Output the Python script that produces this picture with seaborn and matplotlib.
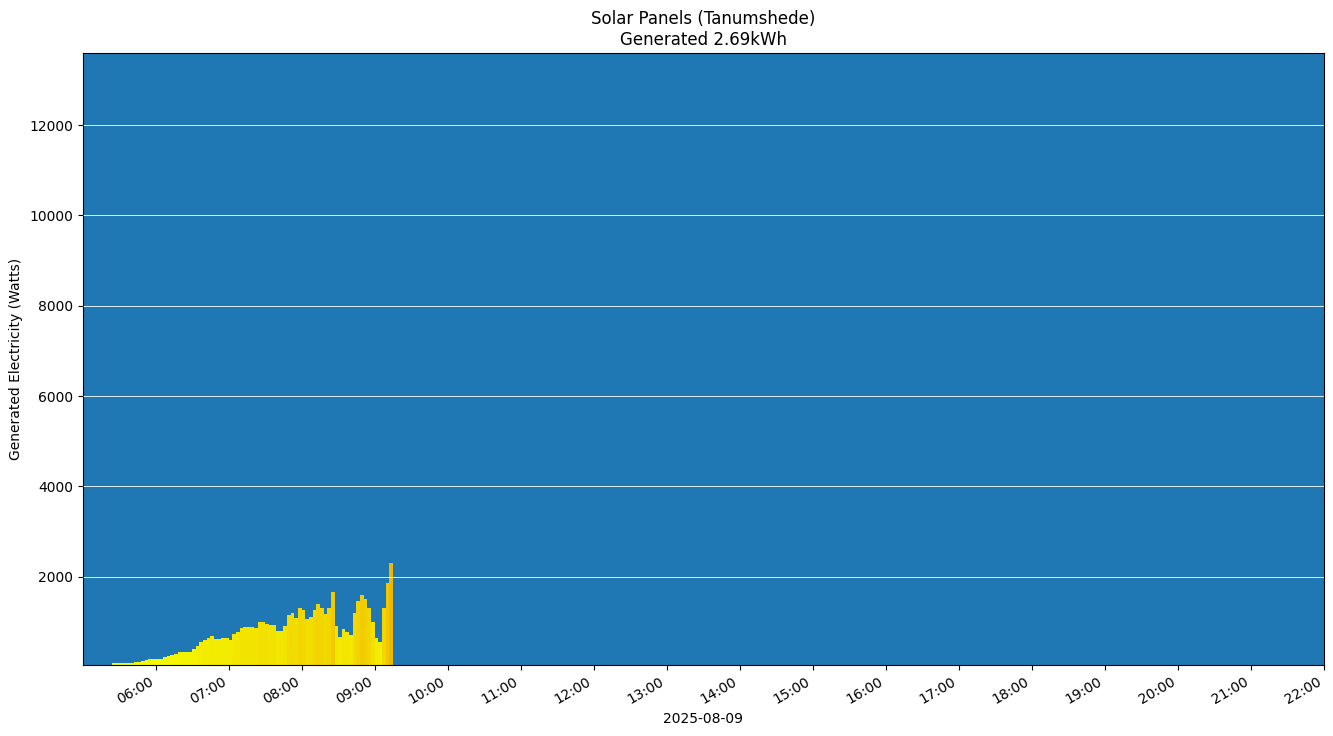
import numpy as np
import pandas as pd
import matplotlib
matplotlib.use("Agg")
import matplotlib.pyplot as plt
import matplotlib.dates as mdates
from matplotlib.colors import LinearSegmentedColormap, Normalize
import seaborn as sns

start_minute = 24  # minutes after 05:00
step_minutes = 3
watts = [85, 85, 85, 85, 85, 90, 110, 115, 130, 150, 180, 180, 170, 175, 210, 240,
         270, 280, 330, 330, 330, 330, 400, 470, 540, 600, 650, 680, 610, 620, 640,
         640, 600, 720, 780, 860, 890, 880, 880, 870, 1000, 990, 950, 930, 920, 800,
         790, 900, 1140, 1200, 1080, 1300, 1250, 1050, 1100, 1250, 1400, 1300, 1180,
         1300, 1650, 900, 660, 830, 780, 700, 1200, 1450, 1600, 1500, 1300, 1000,
         650, 550, 1300, 1850, 2300]
title = "Solar Panels (Tanumshede)\nGenerated 2.69kWh"
ylabel = "Generated Electricity (Watts)"
xlabel = "2025-08-09"

base = pd.Timestamp("2025-08-09 05:00")
times = [base + pd.Timedelta(minutes=start_minute + i * step_minutes) for i in range(len(watts))]
x = mdates.date2num(times)
width = step_minutes / (24 * 60)

fig, ax = plt.subplots(figsize=(13.33, 7.36), dpi=100)
ax.set_facecolor("#1f77b4")
df = pd.DataFrame({"t": x + width / 2, "w": watts})
sns.histplot(data=df, x="t", weights="w", binwidth=width,
             binrange=(x[0], x[0] + width * len(watts)), ax=ax,
             linewidth=0, alpha=1, element="bars")
cmap = LinearSegmentedColormap.from_list("sun", ["#f4ff00", "#f0b400"])
norm = Normalize(0, 2400)
for p in ax.patches:
    h = p.get_height()
    p.set_facecolor(cmap(norm(h)))
    p.set_edgecolor("none")

ax.set_xlim(mdates.date2num(pd.Timestamp("2025-08-09 05:00")), mdates.date2num(pd.Timestamp("2025-08-09 22:00")))
ax.set_ylim(50, 13600)
ax.set_yticks([2000, 4000, 6000, 8000, 10000, 12000])
ax.yaxis.grid(True, color="white", linewidth=0.6)
ax.xaxis.grid(False)
ax.set_axisbelow(False)
ax.xaxis.set_major_locator(mdates.HourLocator(byhour=range(6, 23)))
ax.xaxis.set_major_formatter(mdates.DateFormatter("%H:%M"))
plt.setp(ax.get_xticklabels(), rotation=30, ha="right")
ax.set_xlabel(xlabel)
ax.set_ylabel(ylabel)
ax.set_title(title)
fig.subplots_adjust(left=0.062, right=0.993, top=0.928, bottom=0.097)
fig.savefig("out.png", dpi=100)
